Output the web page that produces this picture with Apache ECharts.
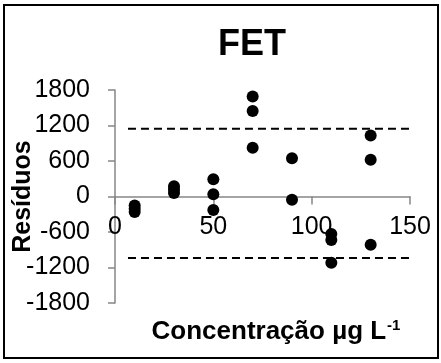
<!DOCTYPE html>
<html>
<head>
<meta charset="utf-8">
<script src="https://cdn.jsdelivr.net/npm/echarts@6/dist/echarts.min.js"></script>
<style>
  html, body { margin: 0; padding: 0; background: #fff; }
  #main { width: 441px; height: 363px; }
</style>
</head>
<body>
<div id="main"></div>
<script>
// concentrações (µg/L) e resíduos
var conc = [10, 30, 50, 70, 90, 110, 130];
var res10 = [-150, -205, -260];
var res30 = [175, 120, 60];
var res50 = [290, 40, -230];
var res70 = [1690, 1445, 825];
var res90 = [645, -55];
var res110 = [-635, -735, -1120];
var res130 = [1030, 620, -815];
// limites (linhas tracejadas)
var limSup = 1146;
var limInf = -1040;
var limX = [6.6, 152.5];
var yTicks = [-1800, -1200, -600, 0, 600, 1200, 1800];
var xTicks = [0, 50, 100, 150];

var residuos = [res10, res30, res50, res70, res90, res110, res130];
var pontos = [];
conc.forEach(function (c, i) {
  residuos[i].forEach(function (r) { pontos.push([c, r]); });
});

var fonte = "'Liberation Sans', Arial, sans-serif";
var cinza = "#868686";

// grid: topo 90, base 303 -> eixo x deslocado para o zero
var gTop = 90, gBottom = 60, H = 363;
var gH = H - gTop - gBottom;
var yMin = yTicks[0], yMax = yTicks[yTicks.length - 1];
var zeroOffset = -gH * (0 - yMin) / (yMax - yMin);

var myChart = echarts.init(document.getElementById("main"));
var option = {
  animation: false,
  title: {
    text: "FET",
    left: 213,
    top: 22,
    textStyle: { fontSize: 36, fontWeight: "bold", color: "#000", fontFamily: fonte }
  },
  grid: { left: 115, right: 31, top: gTop, bottom: gBottom, containLabel: false, outerBoundsMode: "none" },
  xAxis: {
    type: "value",
    min: xTicks[0],
    max: xTicks[xTicks.length - 1],
    interval: 50,
    offset: zeroOffset,
    name: "{a|Concentração µg L}{b|-1}",
    nameLocation: "middle",
    nameGap: 122,
    nameMoveOverlap: false,
    nameTextStyle: {
      padding: [0, 0, 0, 27],
      rich: {
        a: { fontSize: 26, fontWeight: "bold", color: "#000", fontFamily: fonte },
        b: { fontSize: 15, fontWeight: "bold", color: "#000", fontFamily: fonte, verticalAlign: "top", padding: [0, 0, 11, 1] }
      }
    },
    axisLine: { onZero: false, lineStyle: { color: cinza, width: 1.5 } },
    axisTick: { show: true, length: 8, lineStyle: { color: cinza, width: 1.5 } },
    axisLabel: {
      margin: 18, fontSize: 25, color: "#000", fontFamily: fonte,
      formatter: function (v) { return String(v); }
    },
    splitLine: { show: false }
  },
  yAxis: {
    type: "value",
    min: yMin,
    max: yMax,
    interval: 600,
    name: "Resíduos",
    nameLocation: "middle",
    nameGap: 79,
    nameMoveOverlap: false,
    nameTextStyle: { fontSize: 25, fontWeight: "bold", color: "#000", fontFamily: fonte },
    axisLine: { show: true, onZero: false, lineStyle: { color: cinza, width: 1.5 } },
    axisTick: { show: true, length: 7, lineStyle: { color: cinza, width: 1.5 } },
    axisLabel: {
      margin: 25, fontSize: 25, color: "#000", fontFamily: fonte,
      hideOverlap: false,
      formatter: function (v) { return String(v); }
    },
    splitLine: { show: false }
  },
  series: [
    {
      type: "line",
      data: [[limX[0], limSup], [limX[1], limSup]],
      symbol: "none",
      clip: false,
      lineStyle: { color: "#000", width: 2, type: [8, 5] }
    },
    {
      type: "line",
      data: [[limX[0], limInf], [limX[1], limInf]],
      symbol: "none",
      clip: false,
      lineStyle: { color: "#000", width: 2, type: [8, 5] }
    },
    {
      type: "scatter",
      data: pontos,
      symbol: "circle",
      symbolSize: 12,
      itemStyle: { color: "#000", opacity: 1 }
    }
  ],
  graphic: [
    {
      type: "rect",
      shape: { x: 4, y: 5, width: 434, height: 353 },
      style: { fill: null, stroke: "#000", lineWidth: 2 },
      silent: true
    }
  ]
};
myChart.setOption(option);
</script>
</body>
</html>
